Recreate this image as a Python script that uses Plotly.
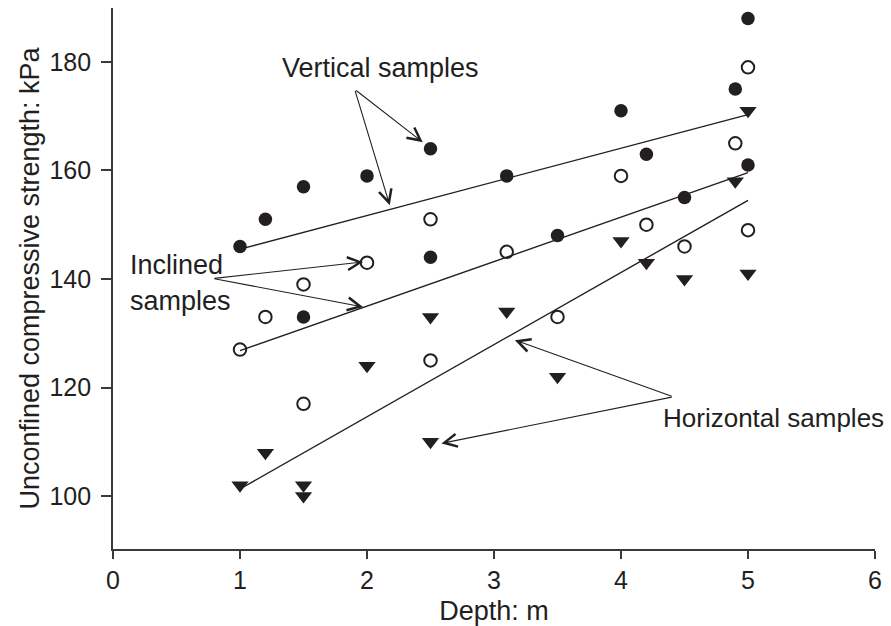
import plotly.graph_objects as go

# Depth (m) of each sample
depth = [1, 1.2, 1.5, 1.5, 2, 2.5, 2.5, 3.1, 3.5, 4, 4.2, 4.5, 4.9, 5, 5]
vertical = [146, 151, 157, 133, 159, 164, 144, 159, 148, 171, 163, 155, 175, 188, 161]
inclined = [127, 133, 139, 117, 143, 151, 125, 145, 133, 159, 150, 146, 165, 179, 149]
horizontal = [102, 108, 102, 100, 124, 133, 110, 134, 122, 147, 143, 140, 158, 171, 141]

# Regression lines (end points at depth 1 and 5)
fit_x = [1, 5]
vertical_fit = [145.5, 170.3]
inclined_fit = [126.8, 159.6]
horizontal_fit = [101.3, 154.5]

x_ticks = [0, 1, 2, 3, 4, 5, 6]
y_ticks = [100, 120, 140, 160, 180]

INK = "#231f20"
FONT = "Liberation Sans, Arial, sans-serif"

fig = go.Figure()
for fy in (vertical_fit, inclined_fit, horizontal_fit):
    fig.add_trace(go.Scatter(x=fit_x, y=fy, mode="lines",
                             line=dict(color=INK, width=1.4), showlegend=False,
                             hoverinfo="skip"))

fig.add_trace(go.Scatter(x=depth, y=vertical, mode="markers", name="Vertical",
                         marker=dict(symbol="circle", size=13.5, color=INK,
                                     line=dict(width=0))))
fig.add_trace(go.Scatter(x=depth, y=inclined, mode="markers", name="Inclined",
                         marker=dict(symbol="circle-open", size=12.5, color=INK,
                                     line=dict(width=2, color=INK))))
fig.add_trace(go.Scatter(x=depth, y=horizontal, mode="markers", name="Horizontal",
                         marker=dict(symbol="triangle-down", size=15, color=INK,
                                     line=dict(width=0))))

annos = []

def arrow(tail, head):
    annos.append(dict(x=head[0], y=head[1], ax=tail[0], ay=tail[1],
                      xref="x", yref="y", axref="x", ayref="y",
                      text="", showarrow=True, arrowhead=5, arrowsize=2.3,
                      arrowwidth=1.1, arrowcolor=INK, standoff=0, startstandoff=0))

def label(x, y, text, xanchor="center", size=27):
    annos.append(dict(x=x, y=y, xref="x", yref="y", text=text, showarrow=False,
                      xanchor=xanchor, yanchor="middle",
                      font=dict(family=FONT, size=size, color=INK)))

# Vertical samples
label(2.104, 178.9, "Vertical samples")
arrow((1.903, 174.95), (2.179, 153.6))
arrow((1.903, 174.95), (2.439, 165.2))
# Inclined samples
label(0.117, 142.6, "Inclined", "left")
label(0.117, 135.9, "samples", "left")
arrow((0.787, 140.09), (1.969, 143.15))
arrow((0.787, 140.09), (1.969, 134.86))
# Horizontal samples
label(4.315, 114.3, "Horizontal samples", "left", size=26)
arrow((4.411, 118.29), (3.164, 128.73))
arrow((4.411, 118.29), (2.586, 109.7))

fig.update_layout(
    width=891, height=626,
    margin=dict(l=113, r=16, t=8, b=77),
    paper_bgcolor="white", plot_bgcolor="white",
    showlegend=False,
    font=dict(family=FONT, size=25, color=INK),
    annotations=annos,
)
fig.update_xaxes(range=[0, 6], tickvals=x_ticks, ticks="outside", ticklen=8,
                 tickwidth=1.8, tickcolor="#3a3a3a", showline=True, linewidth=1.8,
                 linecolor="#3a3a3a", showgrid=False, zeroline=False,
                 automargin=False,
                 tickfont=dict(family=FONT, size=25, color=INK),
                 title=dict(text="Depth: m", font=dict(family=FONT, size=27, color=INK),
                            standoff=8))
fig.update_yaxes(range=[90.24, 189.94], tickvals=y_ticks, ticks="outside", ticklen=10,
                 tickwidth=1.8, tickcolor="#3a3a3a", showline=True, linewidth=1.8,
                 linecolor="#3a3a3a", showgrid=False, zeroline=False,
                 automargin=False, ticklabelstandoff=5,
                 tickfont=dict(family=FONT, size=25, color=INK),
                 title=dict(text="Unconfined compressive strength: kPa",
                            font=dict(family=FONT, size=27, color=INK), standoff=2))

fig.write_html("out.html")
